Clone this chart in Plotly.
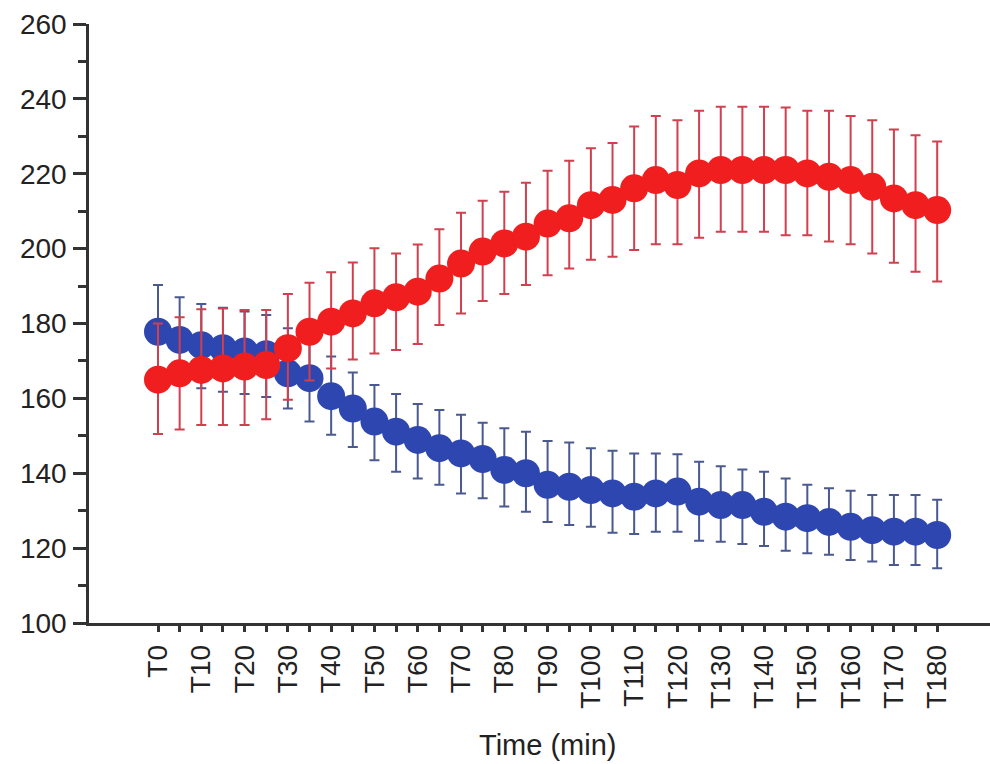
import plotly.graph_objects as go

# Time points (minutes) and labels
times = [0, 5, 10, 15, 20, 25, 30, 35, 40, 45, 50, 55, 60, 65, 70, 75, 80, 85, 90,
         95, 100, 105, 110, 115, 120, 125, 130, 135, 140, 145, 150, 155, 160, 165, 170, 175, 180]
tick_labels = ["T0", "", "T10", "", "T20", "", "T30", "", "T40", "", "T50", "", "T60", "",
               "T70", "", "T80", "", "T90", "", "T100", "", "T110", "", "T120", "", "T130", "",
               "T140", "", "T150", "", "T160", "", "T170", "", "T180"]

# Blue series: mean, upper error, lower error
blue_mean = [177.8, 175.6, 174.2, 173.4, 172.5, 171.8, 166.7, 165.4, 160.6, 157.3, 153.8, 151.1,
             148.9, 146.7, 145.3, 143.8, 140.9, 140.0, 136.9, 136.4, 135.5, 134.6, 133.7, 134.6,
             135.1, 132.4, 131.5, 131.5, 129.7, 128.4, 128.0, 127.0, 125.7, 124.8, 124.4, 124.4, 123.5]
blue_up = [12.5, 11.4, 11.0, 10.8, 10.7, 10.5, 12.0, 11.6, 10.6, 9.6, 9.8, 10.1,
           9.6, 10.2, 10.3, 9.7, 11.1, 11.1, 11.7, 11.8, 11.2, 11.4, 11.6, 10.7,
           10.0, 10.7, 10.4, 9.5, 10.7, 10.2, 8.9, 9.0, 9.6, 9.4, 9.8, 9.8, 9.4]
blue_down = [12.5, 11.4, 11.5, 11.6, 11.3, 11.4, 9.4, 11.6, 10.3, 10.3, 10.3, 10.7,
             10.3, 9.8, 10.7, 10.5, 9.8, 10.3, 9.9, 10.2, 9.8, 10.5, 9.9, 10.2,
             10.7, 10.4, 9.8, 10.4, 9.1, 9.1, 9.4, 8.8, 8.9, 8.4, 8.9, 8.9, 8.9]

# Red series: mean, upper error, lower error
red_mean = [165.0, 166.7, 167.6, 168.0, 168.5, 168.9, 173.4, 177.8, 180.5, 182.7, 185.4, 187.0,
            188.5, 192.0, 196.0, 199.2, 201.4, 203.2, 206.7, 208.1, 211.6, 213.0, 216.1, 218.3,
            217.0, 220.1, 221.0, 221.0, 221.0, 221.0, 220.1, 219.2, 218.3, 216.5, 213.4, 211.6, 210.3]
red_up = [15.0, 15.0, 16.2, 16.0, 15.1, 14.7, 14.5, 13.1, 13.2, 13.6, 14.7, 11.7,
          12.6, 13.2, 13.6, 13.6, 13.8, 14.4, 14.1, 15.4, 15.2, 15.2, 16.5, 17.1,
          17.3, 16.7, 16.9, 16.9, 16.9, 16.7, 16.7, 17.6, 17.1, 17.8, 18.4, 18.7, 18.3]
red_down = [14.5, 15.0, 14.7, 15.1, 15.6, 14.5, 13.8, 13.0, 12.5, 12.3, 13.4, 14.1,
            14.0, 12.4, 13.3, 13.2, 13.5, 12.9, 13.8, 13.4, 14.6, 15.2, 16.5, 17.1,
            15.8, 17.2, 16.5, 16.5, 16.5, 17.4, 16.5, 17.3, 17.1, 17.8, 17.2, 17.8, 19.1]

fig = go.Figure()

fig.add_trace(go.Scatter(
    x=times, y=blue_mean, mode="markers",
    marker=dict(size=28, color="#2E46B0", line=dict(width=0)),
    error_y=dict(type="data", array=blue_up, arrayminus=blue_down, symmetric=False,
                 color="#4A5A90", thickness=2, width=5),
    showlegend=False,
))

fig.add_trace(go.Scatter(
    x=times, y=red_mean, mode="markers",
    marker=dict(size=28, color="#F01E1E", line=dict(width=0)),
    error_y=dict(type="data", array=red_up, arrayminus=red_down, symmetric=False,
                 color="#D0404E", thickness=2, width=5),
    showlegend=False,
))

axis_color = "#333333"
font_family = "Liberation Sans, Arial, sans-serif"

fig.update_layout(
    width=990, height=764,
    margin=dict(l=89, r=0, t=24, b=141),
    paper_bgcolor="white", plot_bgcolor="white",
    font=dict(family=font_family, color="#222222", size=28),
    xaxis=dict(
        range=[-15.94, 192.2],
        showgrid=False, zeroline=False,
        showline=True, linecolor=axis_color, linewidth=2.5,
        tickmode="array", tickvals=times, ticktext=tick_labels,
        ticks="outside", ticklen=6, tickwidth=2.5, tickcolor=axis_color,
        tickangle=-90, tickfont=dict(size=28, family=font_family, color="#222222"),
        ticklabelstandoff=2,
    ),
    yaxis=dict(
        range=[100, 260],
        showgrid=False, zeroline=False,
        showline=True, linecolor=axis_color, linewidth=2.5,
        tickmode="linear", tick0=100, dtick=20,
        ticks="outside", ticklen=13, tickwidth=2.5, tickcolor=axis_color,
        tickfont=dict(size=28, family=font_family, color="#222222"),
        ticklabelstandoff=1,
        minor=dict(ticks="outside", ticklen=8, tickwidth=2.5, tickcolor=axis_color,
                   dtick=10, tick0=100, showgrid=False),
    ),
    annotations=[dict(
        text="Time (min)", xref="paper", yref="paper",
        x=(547 - 89) / (990 - 89), y=-(745 - 623) / (764 - 24 - 141),
        xanchor="center", yanchor="middle", showarrow=False,
        font=dict(size=29, family=font_family, color="#222222"),
    )],
)

fig.write_html("out.html")
